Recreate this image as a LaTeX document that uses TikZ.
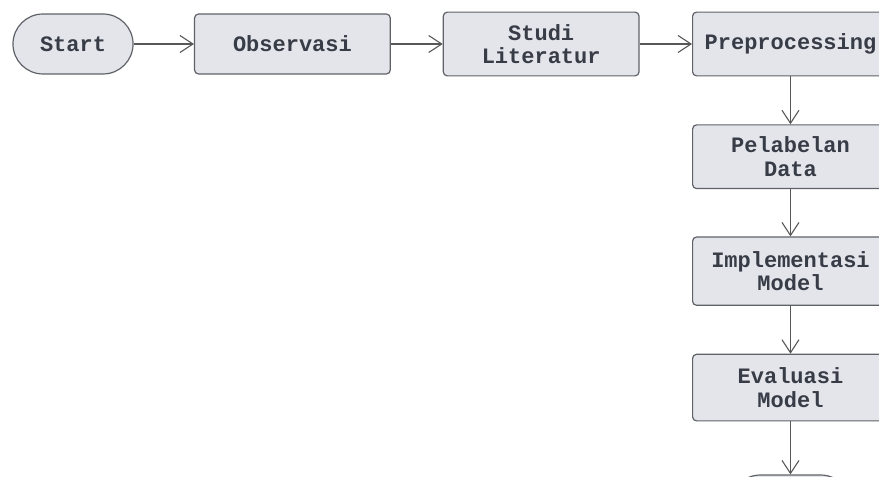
\documentclass[tikz,border=0pt]{standalone}
\usepackage{fontspec}
\usepackage{tikz}
\usetikzlibrary{arrows.meta,positioning}
\newfontfamily\boxfont[BoldFont={Liberation Mono Bold}]{Liberation Mono}
\definecolor{boxfill}{RGB}{227,229,234}
\definecolor{boxline}{RGB}{95,98,104}
\definecolor{boxtext}{RGB}{55,60,70}
\definecolor{flowline}{RGB}{88,88,88}

\begin{document}
\begin{tikzpicture}[
  every node/.style={font=\boxfont\bfseries\fontsize{11}{11.8}\selectfont,text=boxtext,align=center},
  stepbox/.style={draw=boxline,fill=boxfill,line width=0.6pt,rounded corners=2pt,minimum width=3.44cm,minimum height=1.12cm,inner sep=2pt},
  terminal/.style={draw=boxline,fill=boxfill,line width=0.6pt,rounded corners=0.527cm,minimum width=2.11cm,minimum height=1.054cm},
  flow/.style={draw=flowline,line width=0.55pt,-{Straight Barb[length=6.5pt,width=8.5pt,line width=0.55pt]}}]
  \useasboundingbox (0,0) rectangle (15.447,-8.365);
  \clip (0,0) rectangle (15.447,-8.365);
  \node[terminal] (start) at (1.283,-0.773) {Start};
  \node[stepbox,minimum height=1.054cm,right=1.06cm of start] (obs) {Observasi};
  \node[stepbox,right=0.91cm of obs] (studi) {Studi\\Literatur};
  \node[stepbox,right=0.92cm of studi] (prep) {Preprocessing};
  \node[stepbox,below=0.84cm of prep] (label) {Pelabelan\\Data};
  \node[stepbox,minimum height=1.2cm,below=0.83cm of label] (impl) {Implementasi\\Model};
  \node[stepbox,minimum height=1.17cm,below=0.84cm of impl] (eval) {Evaluasi\\Model};
  \node[terminal,below=0.93cm of eval] (finish) {};
  % alur
  \draw[flow] (start) -- (obs);
  \draw[flow] (obs) -- (studi);
  \draw[flow] (studi) -- (prep);
  \draw[flow] (prep) -- (label);
  \draw[flow] (label) -- (impl);
  \draw[flow] (impl) -- (eval);
  \draw[flow] (eval) -- (finish);
\end{tikzpicture}
\end{document}
